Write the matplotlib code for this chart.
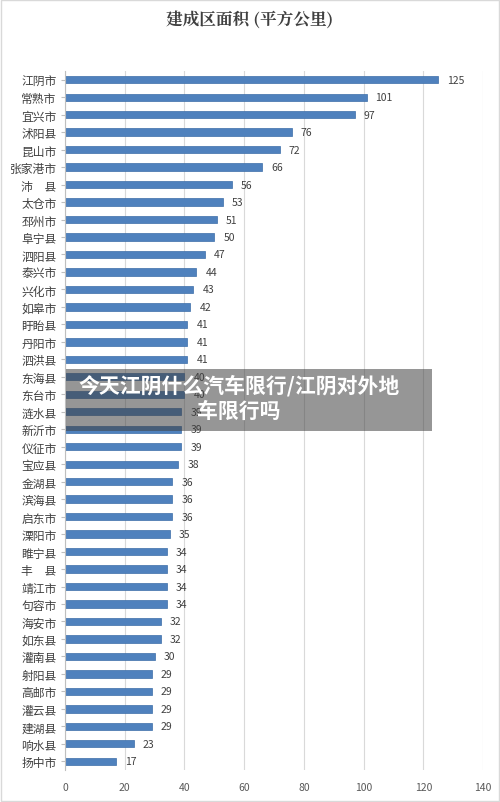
import matplotlib
matplotlib.use("Agg")
import matplotlib.pyplot as plt
from matplotlib.patches import Rectangle

plt.rcParams['font.family'] = ['Noto Sans CJK SC', 'DejaVu Sans']

cities = ["江阴市","常熟市","宜兴市","沭阳县","昆山市","张家港市","沛　县","太仓市","邳州市","阜宁县",
          "泗阳县","泰兴市","兴化市","如皋市","盱眙县","丹阳市","泗洪县","东海县","东台市","涟水县",
          "新沂市","仪征市","宝应县","金湖县","滨海县","启东市","溧阳市","睢宁县","丰　县","靖江市",
          "句容市","海安市","如东县","灌南县","射阳县","高邮市","灌云县","建湖县","响水县","扬中市"]
values = [125,101,97,76,72,66,56,53,51,50,47,44,43,42,41,41,41,40,40,39,
          39,39,38,36,36,36,35,34,34,34,34,32,32,30,29,29,29,29,23,17]
xticks = [0,20,40,60,80,100,120,140]

fig = plt.figure(figsize=(5.0,8.03), dpi=100)
ax = fig.add_axes([65/500, 1-771/803, 418/500, (771-72)/803])
y = list(range(len(cities)))
ax.barh(y, values, height=0.42, color='#4f81bd', edgecolor='#3d6ea8', linewidth=0.5, zorder=2)
for yi, v in zip(y, values):
    ax.text(v+3, yi, str(v), va='center', ha='left', fontsize=7.5, color='#404040')
ax.set_yticks(y)
ax.set_yticklabels(cities, fontsize=8.5, color='#404040')
ax.set_ylim(len(cities)-0.5, -0.5)
ax.set_xlim(0,140)
ax.set_xticks(xticks)
ax.tick_params(axis='x', labelsize=7.5, colors='#595959', length=0, pad=9)
ax.tick_params(axis='y', length=3, color='#bfbfbf', pad=3)
ax.grid(axis='x', color='#d9d9d9', linewidth=0.8, zorder=0)
for s in ['top','right','bottom']:
    ax.spines[s].set_visible(False)
ax.spines['left'].set_color('#bfbfbf')
fig.text(0.5, 1-20/803, "建成区面积 (平方公里)", ha='center', va='center', fontsize=12,
         fontweight='bold', color='#404040', family=['Noto Serif CJK SC','Noto Sans CJK SC','DejaVu Sans'])
fig.patches.append(Rectangle((1/500, 1/803), 498/500, 801/803, transform=fig.transFigure,
                             fill=False, edgecolor='#d9d9d9', linewidth=1))
fig.patches.append(Rectangle((66/500, 1-432/803), 366/500, 62/803, transform=fig.transFigure,
                             facecolor='#404040', alpha=0.55, edgecolor='none', zorder=5))
fig.text(239/500, 1-386/803, "今天江阴什么汽车限行/江阴对外地", ha='center', va='center',
         fontsize=15, fontweight='bold', color='white', zorder=6)
fig.text(239/500, 1-411/803, "车限行吗", ha='center', va='center',
         fontsize=15, fontweight='bold', color='white', zorder=6)
fig.savefig("out.png", dpi=100)
